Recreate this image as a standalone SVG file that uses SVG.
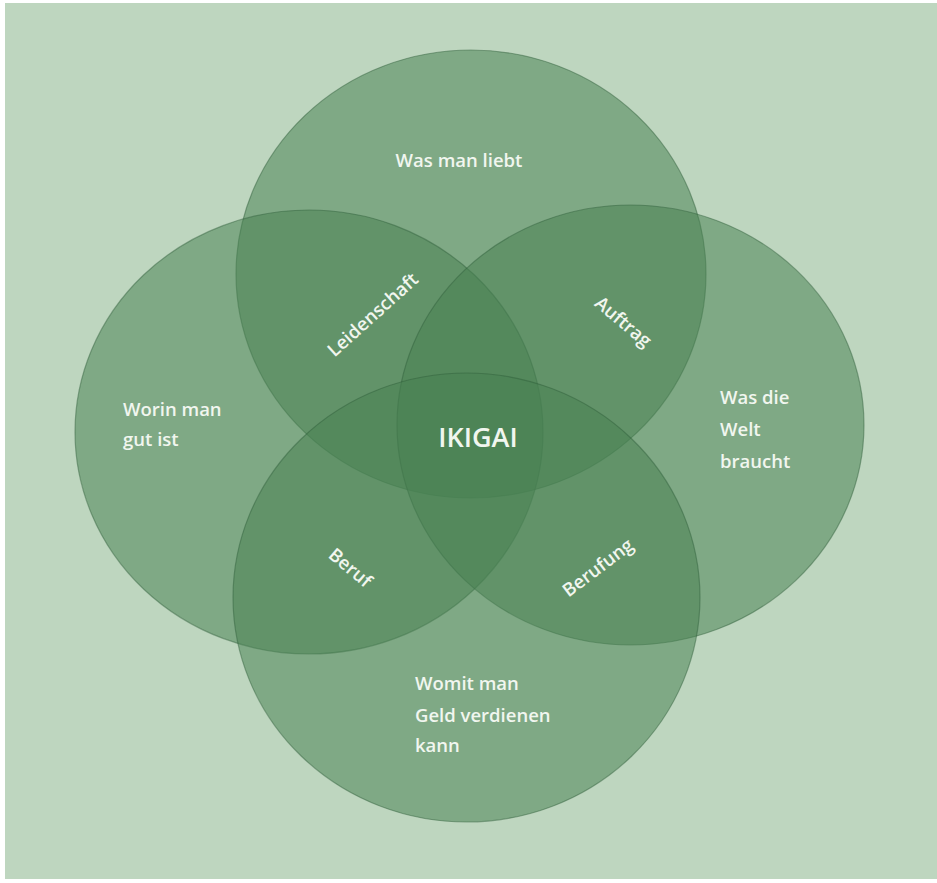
<svg xmlns="http://www.w3.org/2000/svg" width="937" height="883" viewBox="0 0 937 883">
<style>
.c{fill:#488152;fill-opacity:0.53;stroke:#2e5e3a;stroke-opacity:0.45;stroke-width:1.2}
.t{font-family:"Open Sans","Noto Sans",sans-serif;font-size:18.5px;font-weight:600;fill:#f1f6ef}
.big{font-size:27px}
</style>
<rect x="0" y="0" width="937" height="883" fill="#ffffff"/>
<rect x="5" y="3" width="932" height="876" fill="#bed6bf"/>
<g id="circle-liebt"><ellipse class="c" cx="471" cy="274" rx="235" ry="224"/></g>
<g id="circle-gut"><ellipse class="c" cx="309" cy="432" rx="234" ry="222"/></g>
<g id="circle-welt"><ellipse class="c" cx="630.5" cy="425" rx="233.5" ry="220"/></g>
<g id="circle-geld"><ellipse class="c" cx="466.5" cy="597.5" rx="233.5" ry="224.5"/></g>
<g id="labels">
<text class="t" x="459" y="167" text-anchor="middle">Was man liebt</text>
<text class="t" x="123" y="416">Worin man</text>
<text class="t" x="123" y="446">gut ist</text>
<text class="t" x="720" y="404">Was die</text>
<text class="t" x="720" y="436">Welt</text>
<text class="t" x="720" y="468">braucht</text>
<text class="t" x="415" y="690">Womit man</text>
<text class="t" x="415" y="722">Geld verdienen</text>
<text class="t" x="415" y="752">kann</text>
<text class="t big" x="478" y="447" text-anchor="middle">IKIGAI</text>
<text class="t" text-anchor="middle" transform="translate(373,315) rotate(-42)" y="6">Leidenschaft</text>
<text class="t" text-anchor="middle" transform="translate(623,322) rotate(40)" y="6">Auftrag</text>
<text class="t" text-anchor="middle" transform="translate(350,568) rotate(40)" y="6">Beruf</text>
<text class="t" text-anchor="middle" transform="translate(598,568) rotate(-37)" y="6">Berufung</text>
</g>
</svg>
